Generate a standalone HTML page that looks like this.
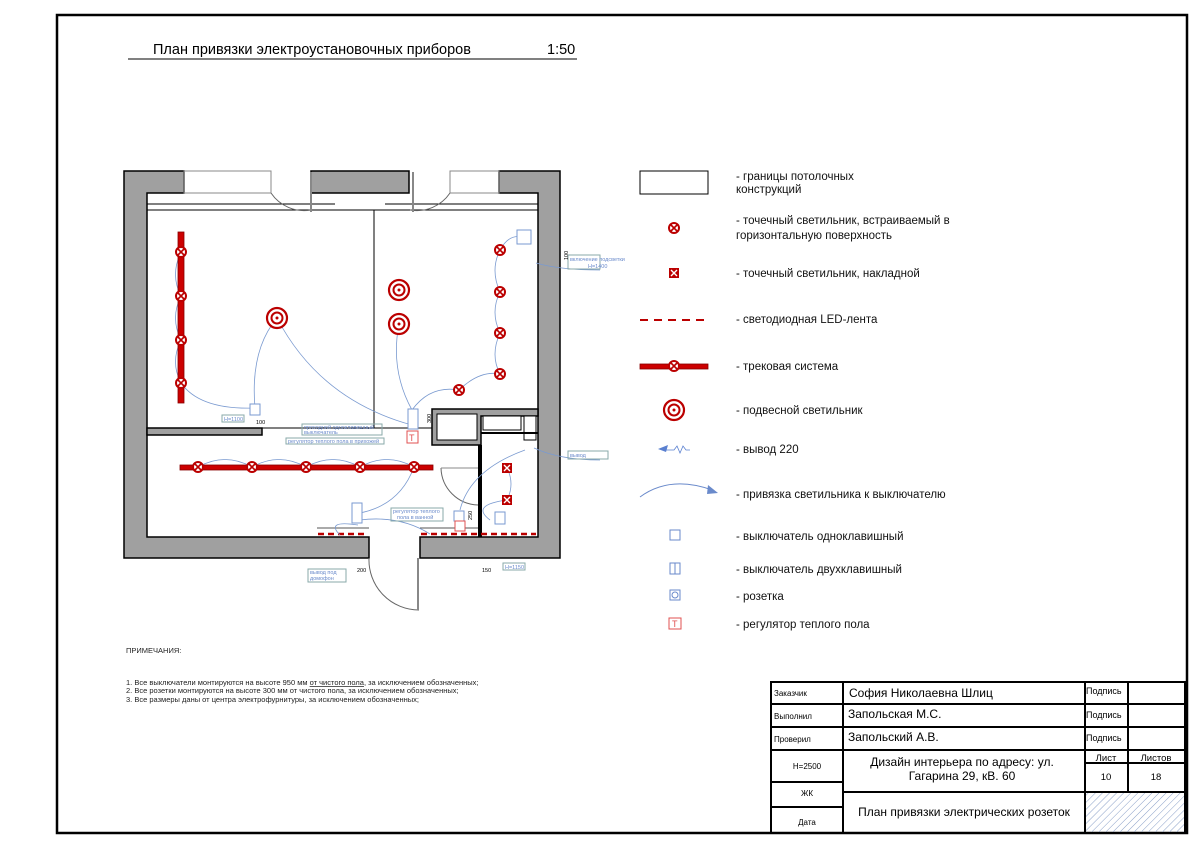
<!DOCTYPE html>
<html><head><meta charset="utf-8"><style>
body{margin:0;background:#fff}
svg{display:block;font-family:"Liberation Sans",sans-serif}
</style></head><body>
<svg width="1199" height="848" viewBox="0 0 1199 848" xmlns="http://www.w3.org/2000/svg">
<defs>
<g id="spot"><circle r="5" fill="#fff" stroke="#b00" stroke-width="2"/><path d="M-3,-3L3,3M3,-3L-3,3" stroke="#b00" stroke-width="1.6"/></g>
<g id="pend"><circle r="10" fill="#fff" stroke="#b00" stroke-width="2.2"/><circle r="5.5" fill="none" stroke="#b00" stroke-width="2"/><circle r="1.5" fill="#b00"/></g>
<g id="sq"><rect x="-5" y="-5" width="10" height="10" fill="#b00"/><path d="M-3,-3L3,3M3,-3L-3,3" stroke="#fff" stroke-width="1.4"/></g>
</defs>
<rect x="57" y="15" width="1130" height="818" fill="none" stroke="#000" stroke-width="2.5"/>
<text x="153" y="54" font-size="14.5">План привязки электроустановочных приборов</text>
<text x="547" y="54" font-size="14.5">1:50</text>
<line x1="128" y1="59" x2="577" y2="59" stroke="#000" stroke-width="1"/>

<!-- walls -->
<g fill="#a0a0a0" stroke="#000" stroke-width="1.5">
<path d="M124,171H184V193H147V537H369V558H124Z"/>
<path d="M311,171H409V193H311Z"/>
<path d="M499,171H560V558H420V537H538V193H499Z"/>
<rect x="147" y="428" width="115" height="7"/>
<path d="M432,409H538V416H481V445H432Z" />
</g>
<g fill="#fff" stroke="#000" stroke-width="1">
<rect x="437" y="414" width="40" height="26"/>
<rect x="483" y="416" width="38" height="14"/>
<rect x="524" y="416" width="12" height="24"/>
</g>
<line x1="481" y1="433" x2="538" y2="433" stroke="#000" stroke-width="2"/>
<rect x="478" y="445" width="4" height="60" fill="#000"/>
<rect x="478" y="505" width="4" height="32" fill="#000"/>
<g stroke="#000" stroke-width="1" fill="none">
<rect x="184" y="171" width="87" height="22" stroke="#888"/>
<rect x="450" y="171" width="49" height="22" stroke="#888"/>
<line x1="147" y1="210" x2="538" y2="210"/>
<line x1="147" y1="204" x2="335" y2="204"/><line x1="385" y1="204" x2="538" y2="204"/>
<line x1="374" y1="210" x2="374" y2="428"/>
<line x1="262" y1="428" x2="432" y2="428"/>
<path d="M271,193A40,40 0 0 0 311,210" stroke="#666"/>
<path d="M450,193A40,40 0 0 1 410,210" stroke="#666"/>
<line x1="311" y1="172" x2="311" y2="212" stroke="#888" stroke-width="2"/>
<line x1="413" y1="172" x2="413" y2="212" stroke="#888" stroke-width="2"/>
<path d="M369,558A50,50 0 0 0 419,610" stroke="#666"/>
<line x1="418" y1="558" x2="418" y2="610" stroke="#888" stroke-width="2"/>
<path d="M441,468A38,38 0 0 0 478,505" stroke="#666"/>
<line x1="441" y1="468" x2="478" y2="468" stroke="#888"/>
<line x1="317" y1="528" x2="369" y2="528" stroke="#555"/>
<line x1="420" y1="528" x2="478" y2="528" stroke="#555"/>
</g>
<!-- LED -->
<g stroke="#b00" stroke-width="2.5" stroke-dasharray="6,4">
<line x1="318" y1="534" x2="368" y2="534"/>
<line x1="421" y1="534" x2="536" y2="534"/>
</g>
<!-- blue arcs -->
<g stroke="#7a9ad0" stroke-width="0.8" fill="none">
<path d="M181,252Q170,275 181,296Q170,318 181,340Q170,362 181,383Q200,410 255,408"/>
<path d="M277,318Q250,350 255,408"/>
<path d="M277,318Q320,400 412,425"/>
<path d="M399,324Q390,370 412,410"/>
<path d="M412,410Q430,385 459,390Q480,370 500,374Q490,355 500,333Q490,312 500,292Q490,270 500,250Q510,232 525,238"/>
<path d="M198,467Q225,452 252,467Q279,452 306,467Q333,452 360,467Q387,452 414,467Q400,505 360,513"/>
<path d="M358,525Q325,520 340,535"/>
<path d="M360,520Q400,515 430,534"/>
<path d="M460,510Q470,470 525,450"/>
<path d="M507,468Q515,484 507,500Q470,505 490,520"/>
<path d="M536,263Q560,270 600,270"/><path d="M534,448Q560,460 600,460"/>
</g>
<!-- fixtures -->
<rect x="178" y="232" width="6" height="171" fill="#c00" stroke="#800" stroke-width="0.8"/>
<use href="#spot" x="181" y="252"/><use href="#spot" x="181" y="296"/><use href="#spot" x="181" y="340"/><use href="#spot" x="181" y="383"/>
<rect x="180" y="465" width="253" height="5" fill="#c00" stroke="#800" stroke-width="0.8"/>
<use href="#spot" x="198" y="467"/><use href="#spot" x="252" y="467"/><use href="#spot" x="306" y="467"/><use href="#spot" x="360" y="467"/><use href="#spot" x="414" y="467"/>
<use href="#pend" x="277" y="318"/><use href="#pend" x="399" y="290"/><use href="#pend" x="399" y="324"/>
<use href="#spot" x="500" y="250"/><use href="#spot" x="500" y="292"/><use href="#spot" x="500" y="333"/><use href="#spot" x="500" y="374"/><use href="#spot" x="459" y="390"/>
<use href="#sq" x="507" y="468"/><use href="#sq" x="507" y="500"/>
<!-- switches -->
<g fill="#fff" stroke="#7a9ad0" stroke-width="1">
<rect x="250" y="404" width="10" height="11"/>
<rect x="408" y="409" width="10" height="20"/>
<rect x="352" y="503" width="10" height="20"/>
<rect x="454" y="511" width="10" height="10"/>
<rect x="517" y="230" width="14" height="14"/>
<rect x="495" y="512" width="10" height="12"/>
</g>
<g fill="#fff" stroke="#e05050" stroke-width="1">
<rect x="407" y="431" width="11" height="12"/>
<rect x="455" y="521" width="10" height="10"/>
</g>
<text x="409" y="441" font-size="9" fill="#e05050">T</text>
<!-- labels -->
<g font-size="5.5" fill="#6a8acb">
<rect x="222" y="415" width="22" height="7" fill="none" stroke="#8aa"/><text x="224" y="421">H=1100</text>
<text x="256" y="424" fill="#000">100</text>
<rect x="302" y="424" width="80" height="11" fill="none" stroke="#8aa"/><text x="304" y="429">проходной одноклавишный</text><text x="304" y="434">выключатель</text>
<rect x="286" y="438" width="98" height="6" fill="none" stroke="#8aa"/><text x="288" y="443">регулятор теплого пола в прихожей</text>
<rect x="391" y="508" width="52" height="13" fill="none" stroke="#8aa"/><text x="393" y="513">регулятор теплого</text><text x="397" y="519">пола в ванной</text>
<rect x="308" y="569" width="38" height="13" fill="none" stroke="#8aa"/><text x="310" y="574">вывод под</text><text x="310" y="580">домофон</text>
<rect x="503" y="563" width="22" height="7" fill="none" stroke="#8aa"/><text x="505" y="569">H=1150</text>
<rect x="568" y="255" width="32" height="14" fill="none" stroke="#8aa"/><text x="570" y="261">включение подсветки</text><text x="588" y="268">H=1400</text>
<rect x="568" y="451" width="40" height="8" fill="none" stroke="#8aa"/><text x="570" y="457">вывод</text>
<text x="482" y="572" fill="#000">150</text><text x="357" y="572" fill="#000">200</text>
<text x="428" y="420" fill="#000" transform="rotate(-90 431 420)">300</text>
<text x="470" y="518" fill="#000" transform="rotate(-90 472 518)">250</text>
<text x="566" y="258" fill="#000" transform="rotate(-90 568 258)">100</text>
</g>

<!-- legend -->
<rect x="640" y="171" width="68" height="23" fill="none" stroke="#000"/>
<g font-size="11.5" fill="#111">
<text x="736" y="180">- границы потолочных</text><text x="736" y="193">конструкций</text>
<text x="736" y="224">- точечный светильник, встраиваемый в</text><text x="736" y="239">горизонтальную поверхность</text>
<text x="736" y="277">- точечный светильник, накладной</text>
<text x="736" y="323">- светодиодная LED-лента</text>
<text x="736" y="370">- трековая система</text>
<text x="736" y="414">- подвесной светильник</text>
<text x="736" y="453">- вывод 220</text>
<text x="736" y="498">- привязка светильника к выключателю</text>
<text x="736" y="540">- выключатель одноклавишный</text>
<text x="736" y="573">- выключатель двухклавишный</text>
<text x="736" y="600">- розетка</text>
<text x="736" y="628">- регулятор теплого пола</text>
</g>
<use href="#spot" x="674" y="228"/>
<use href="#sq" x="674" y="273"/>
<line x1="640" y1="320" x2="708" y2="320" stroke="#b00" stroke-width="2" stroke-dasharray="8,6"/>
<rect x="640" y="364" width="68" height="5" fill="#c00" stroke="#800" stroke-width="0.8"/><use href="#spot" x="674" y="366"/>
<use href="#pend" x="674" y="410"/>
<path d="M658,449L668,445L666,452Z" fill="#5a80d0"/><path d="M666,450L674,450L677,446L680,453L683,446L686,450L690,450" stroke="#5a80d0" fill="none" stroke-width="0.8"/>
<path d="M640,497Q670,475 712,490" stroke="#6a8acb" fill="none"/><path d="M718,493L708,485L707,494Z" fill="#6a8acb"/>
<rect x="670" y="530" width="10" height="10" fill="none" stroke="#6a8acb"/>
<rect x="670" y="563" width="10" height="11" fill="none" stroke="#6a8acb"/><line x1="675" y1="563" x2="675" y2="574" stroke="#6a8acb"/>
<rect x="670" y="590" width="10" height="10" fill="none" stroke="#6a8acb"/><circle cx="675" cy="595" r="3" fill="none" stroke="#6a8acb"/>
<rect x="669" y="618" width="12" height="11" fill="none" stroke="#e05050"/><text x="672" y="627" font-size="9" fill="#e05050">T</text>

<!-- notes -->
<g font-size="7.5" fill="#222">
<text x="126" y="653">ПРИМЕЧАНИЯ:</text>
<text x="126" y="685">1. Все выключатели монтируются на высоте 950 мм <tspan text-decoration="underline">от чистого пола</tspan>, за исключением обозначенных;</text>
<text x="126" y="693">2. Все розетки монтируются на высоте 300 мм от чистого пола, за исключением обозначенных;</text>
<text x="126" y="702">3. Все размеры даны от центра электрофурнитуры, за исключением обозначенных;</text>
</g>

<!-- title block -->
<defs><pattern id="h" width="5" height="5" patternUnits="userSpaceOnUse" patternTransform="rotate(45)"><line x1="0" y1="0" x2="0" y2="5" stroke="#8aa0c8" stroke-width="1"/></pattern></defs>
<rect x="1085" y="792" width="100" height="41" fill="url(#h)"/>
<g stroke="#000" stroke-width="2" fill="none">
<rect x="771" y="682" width="414" height="151"/>
<line x1="843" y1="682" x2="843" y2="833"/>
<line x1="1085" y1="682" x2="1085" y2="833"/>
<line x1="1128" y1="682" x2="1128" y2="792"/>
<line x1="771" y1="704" x2="1185" y2="704"/>
<line x1="771" y1="727" x2="1185" y2="727"/>
<line x1="771" y1="750" x2="1185" y2="750"/>
<line x1="1085" y1="763" x2="1185" y2="763"/>
<line x1="771" y1="782" x2="843" y2="782"/>
<line x1="843" y1="792" x2="1185" y2="792"/>
<line x1="771" y1="807" x2="843" y2="807"/>
</g>
<g font-size="8" fill="#000">
<text x="774" y="696">Заказчик</text><text x="774" y="719">Выполнил</text><text x="774" y="742">Проверил</text>
<text x="807" y="769" text-anchor="middle">H=2500</text><text x="807" y="796" text-anchor="middle">ЖК</text><text x="807" y="825" text-anchor="middle">Дата</text>
<text x="1086" y="694" font-size="9">Подпись</text><text x="1086" y="718" font-size="9">Подпись</text><text x="1086" y="741" font-size="9">Подпись</text>
<text x="1106" y="761" text-anchor="middle" font-size="9.5">Лист</text><text x="1156" y="761" text-anchor="middle" font-size="9.5">Листов</text>
<text x="1106" y="780" text-anchor="middle" font-size="9.5">10</text><text x="1156" y="780" text-anchor="middle" font-size="9.5">18</text>
</g>
<g font-size="12" fill="#000">
<text x="849" y="697">София Николаевна Шлиц</text>
<text x="848" y="718">Запольская М.С.</text>
<text x="848" y="741">Запольский А.В.</text>
<text x="962" y="766" text-anchor="middle">Дизайн интерьера по адресу: ул.</text>
<text x="962" y="780" text-anchor="middle">Гагарина 29, кВ. 60</text>
<text x="964" y="816" text-anchor="middle">План привязки электрических розеток</text>
</g>
</svg>
</body></html>
